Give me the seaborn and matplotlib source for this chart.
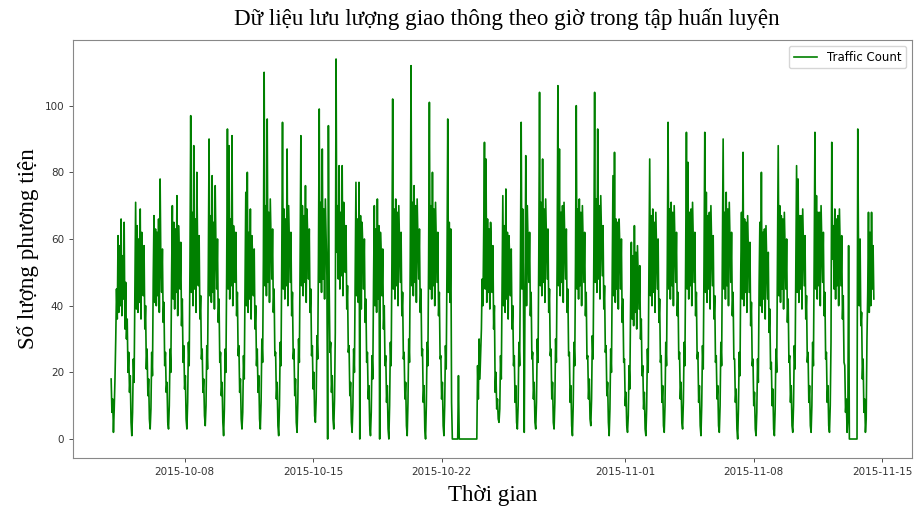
"""
Lưu lượng giao thông theo giờ (tập huấn luyện) - vẽ lại bằng seaborn.
"""
import pandas as pd
import matplotlib.pyplot as plt
import seaborn as sns

START = "2015-10-04 00:00"

# số xe theo giờ, mỗi dòng là một ngày (0h -> 23h)
week_1 = [
    18, 8, 12, 2, 9, 18, 30, 45, 36, 61, 38, 58, 40, 66, 37, 55, 42, 65, 33, 47, 30, 36, 20, 26,     # 10-04
    14, 19, 5, 1, 8, 24, 17, 46, 71, 39, 64, 38, 60, 41, 69, 36, 62, 55, 43, 58, 33, 40, 21, 27,     # 10-05
    13, 18, 6, 3, 9, 26, 19, 48, 67, 41, 63, 40, 62, 43, 66, 38, 78, 52, 44, 57, 35, 41, 22, 26,     # 10-06
    14, 17, 5, 3, 10, 27, 20, 49, 70, 42, 65, 39, 63, 44, 73, 37, 64, 56, 45, 59, 34, 42, 23, 28,    # 10-07
    15, 19, 6, 3, 11, 29, 22, 52, 97, 44, 68, 40, 88, 45, 66, 38, 80, 58, 46, 61, 36, 43, 24, 27,    # 10-08
    14, 18, 7, 4, 10, 28, 21, 51, 90, 43, 67, 41, 79, 44, 65, 39, 76, 57, 45, 60, 35, 42, 23, 26,    # 10-09
    13, 17, 5, 1, 9, 27, 20, 50, 93, 45, 88, 42, 66, 46, 91, 40, 64, 59, 47, 62, 37, 44, 25, 28,     # 10-10
]
week_2 = [
    14, 18, 6, 3, 8, 25, 18, 47, 74, 40, 80, 38, 62, 42, 69, 36, 61, 54, 43, 57, 33, 40, 22, 27,     # 10-11
    14, 19, 6, 3, 11, 30, 23, 54, 110, 46, 70, 43, 96, 47, 68, 41, 72, 60, 48, 63, 38, 45, 25, 26,   # 10-12
    12, 17, 4, 1, 10, 29, 22, 53, 95, 45, 69, 42, 66, 46, 87, 40, 70, 59, 47, 62, 37, 44, 24, 27,    # 10-13
    13, 18, 5, 2, 11, 30, 23, 54, 91, 46, 70, 43, 67, 47, 76, 41, 69, 60, 48, 63, 38, 45, 25, 28,    # 10-14
    15, 20, 7, 5, 12, 31, 24, 55, 99, 47, 71, 44, 87, 48, 69, 42, 72, 61, 49, 0, 94, 46, 26, 29,     # 10-15
    14, 19, 6, 3, 12, 32, 114, 56, 70, 48, 82, 45, 68, 49, 82, 43, 71, 62, 50, 64, 39, 46, 26, 28,   # 10-16
    13, 17, 5, 2, 10, 27, 20, 50, 77, 43, 66, 41, 77, 0, 67, 39, 65, 57, 45, 60, 35, 42, 23, 26,     # 10-17
]
week_3 = [
    12, 16, 4, 1, 8, 25, 18, 47, 70, 40, 63, 38, 72, 42, 64, 0, 62, 54, 43, 57, 33, 40, 22, 25,      # 10-18
    11, 16, 3, 0, 10, 29, 22, 53, 102, 45, 69, 42, 72, 46, 68, 40, 70, 59, 47, 62, 37, 44, 24, 26,   # 10-19
    12, 17, 4, 1, 11, 30, 23, 55, 112, 46, 71, 43, 76, 47, 70, 41, 72, 60, 48, 63, 38, 45, 25, 27,   # 10-20
    11, 16, 3, 0, 10, 29, 22, 54, 101, 45, 70, 42, 80, 46, 69, 40, 71, 59, 47, 62, 37, 44, 24, 25,   # 10-21
    12, 17, 4, 1, 10, 28, 21, 52, 96, 44, 65, 41, 63, 11, 0, 0, 0, 0, 0, 0, 0, 0, 19, 0,             # 10-22
    0, 0, 0, 0, 0, 0, 0, 0, 0, 0, 0, 0, 0, 0, 0, 0, 0, 0, 0, 0, 0, 0, 0, 22,                         # 10-23
    12, 30, 18, 26, 33, 48, 40, 62, 89, 45, 84, 41, 66, 44, 63, 39, 65, 56, 44, 58, 33, 40, 14, 20,  # 10-24
]
week_4 = [
    9, 12, 6, 5, 9, 25, 18, 47, 73, 40, 64, 38, 75, 42, 62, 36, 61, 54, 43, 57, 33, 40, 22, 25,      # 10-25
    11, 16, 5, 3, 10, 29, 22, 53, 95, 45, 69, 42, 2, 46, 85, 40, 70, 59, 47, 62, 37, 44, 24, 26,     # 10-26
    12, 17, 5, 3, 11, 30, 23, 55, 104, 46, 71, 43, 84, 47, 69, 41, 72, 60, 48, 63, 38, 45, 25, 27,   # 10-27
    12, 17, 5, 3, 11, 30, 23, 54, 106, 46, 87, 43, 68, 47, 70, 41, 71, 60, 48, 63, 38, 45, 25, 26,   # 10-28
    11, 16, 4, 1, 10, 29, 22, 53, 100, 45, 69, 42, 72, 46, 68, 40, 70, 59, 47, 62, 37, 44, 24, 25,   # 10-29
    12, 18, 6, 4, 12, 31, 24, 56, 104, 47, 72, 44, 93, 48, 70, 42, 73, 61, 49, 64, 39, 46, 26, 28,   # 10-30
    13, 17, 5, 1, 9, 27, 20, 50, 79, 43, 86, 41, 66, 45, 65, 39, 66, 57, 45, 60, 35, 42, 23, 24,     # 10-31
]
week_5 = [
    10, 14, 4, 2, 7, 22, 15, 40, 59, 36, 55, 34, 64, 38, 56, 33, 58, 49, 39, 52, 30, 36, 19, 22,     # 11-01
    9, 14, 3, 1, 9, 27, 20, 51, 84, 43, 67, 40, 69, 44, 65, 38, 68, 57, 45, 60, 35, 42, 23, 25,      # 11-02
    11, 16, 4, 2, 10, 29, 22, 53, 95, 45, 69, 42, 71, 46, 68, 40, 70, 59, 47, 62, 37, 44, 24, 26,    # 11-03
    12, 17, 5, 3, 11, 29, 22, 54, 92, 45, 83, 42, 68, 46, 69, 40, 71, 59, 47, 62, 37, 44, 24, 26,    # 11-04
    11, 16, 4, 1, 10, 28, 21, 53, 92, 44, 74, 41, 67, 45, 68, 39, 70, 58, 46, 61, 36, 43, 23, 25,    # 11-05
    12, 16, 4, 2, 10, 29, 22, 54, 90, 45, 68, 42, 74, 46, 69, 40, 71, 59, 47, 62, 37, 44, 24, 24,    # 11-06
    11, 15, 3, 0, 9, 26, 19, 50, 68, 42, 86, 40, 66, 44, 65, 38, 67, 56, 44, 59, 34, 41, 22, 24,     # 11-07
]
week_6 = [
    10, 14, 3, 1, 8, 24, 17, 46, 65, 40, 80, 38, 62, 42, 63, 36, 64, 53, 42, 56, 32, 39, 21, 23,     # 11-08
    10, 15, 3, 1, 9, 27, 20, 52, 88, 43, 70, 41, 67, 45, 66, 39, 68, 57, 45, 60, 35, 42, 23, 25,     # 11-09
    11, 16, 4, 2, 10, 28, 21, 53, 82, 44, 78, 41, 67, 45, 67, 39, 69, 58, 46, 61, 36, 43, 23, 26,    # 11-10
    11, 16, 4, 2, 10, 29, 22, 54, 92, 45, 73, 42, 68, 46, 68, 40, 70, 59, 47, 62, 37, 44, 24, 26,    # 11-11
    11, 16, 4, 2, 10, 29, 89, 54, 64, 45, 69, 42, 66, 46, 67, 40, 69, 58, 46, 61, 36, 43, 23, 22,    # 11-12
    8, 12, 2, 6, 58, 0, 0, 0, 0, 0, 0, 0, 0, 0, 0, 0, 93, 55, 40, 60, 34, 38, 18, 24,                # 11-13
    8, 12, 2, 6, 30, 44, 68, 38, 62, 40, 68, 45, 58, 42,                                             # 11-14
]

TITLE = "Dữ liệu lưu lượng giao thông theo giờ trong tập huấn luyện"
X_LABEL = "Thời gian"
Y_LABEL = "Số lượng phương tiện"
SERIES = "Traffic Count"


def build_frame():
    counts = week_1 + week_2 + week_3 + week_4 + week_5 + week_6
    times = pd.date_range(START, periods=len(counts), freq="h")
    return pd.DataFrame({"time": times, "count": counts})


def plot_traffic(df):
    fig = plt.figure(figsize=(9.15, 5.11), dpi=100)
    ax = fig.add_axes([0.0798, 0.1037, 0.9169, 0.818])

    sns.lineplot(data=df, x="time", y="count", ax=ax, color="green",
                 linewidth=1.2, estimator=None, label=SERIES)

    serif = ["Liberation Serif", "DejaVu Serif"]
    ax.set_title(TITLE, fontsize=16.6, family=serif, pad=11, x=0.517)
    ax.set_xlabel(X_LABEL, fontsize=16.6, family=serif, labelpad=6)
    ax.set_ylabel(Y_LABEL, fontsize=16.6, family=serif, labelpad=4)

    ax.tick_params(labelsize=7.5, colors="#333333", length=3, width=0.6)
    for side in ax.spines.values():
        side.set_color("#888888")
        side.set_linewidth(0.8)

    ax.legend(loc="upper right", fontsize=8.5, frameon=True)

    fig.savefig("out.png", dpi=100)
    plt.close(fig)


if __name__ == "__main__":
    plot_traffic(build_frame())
